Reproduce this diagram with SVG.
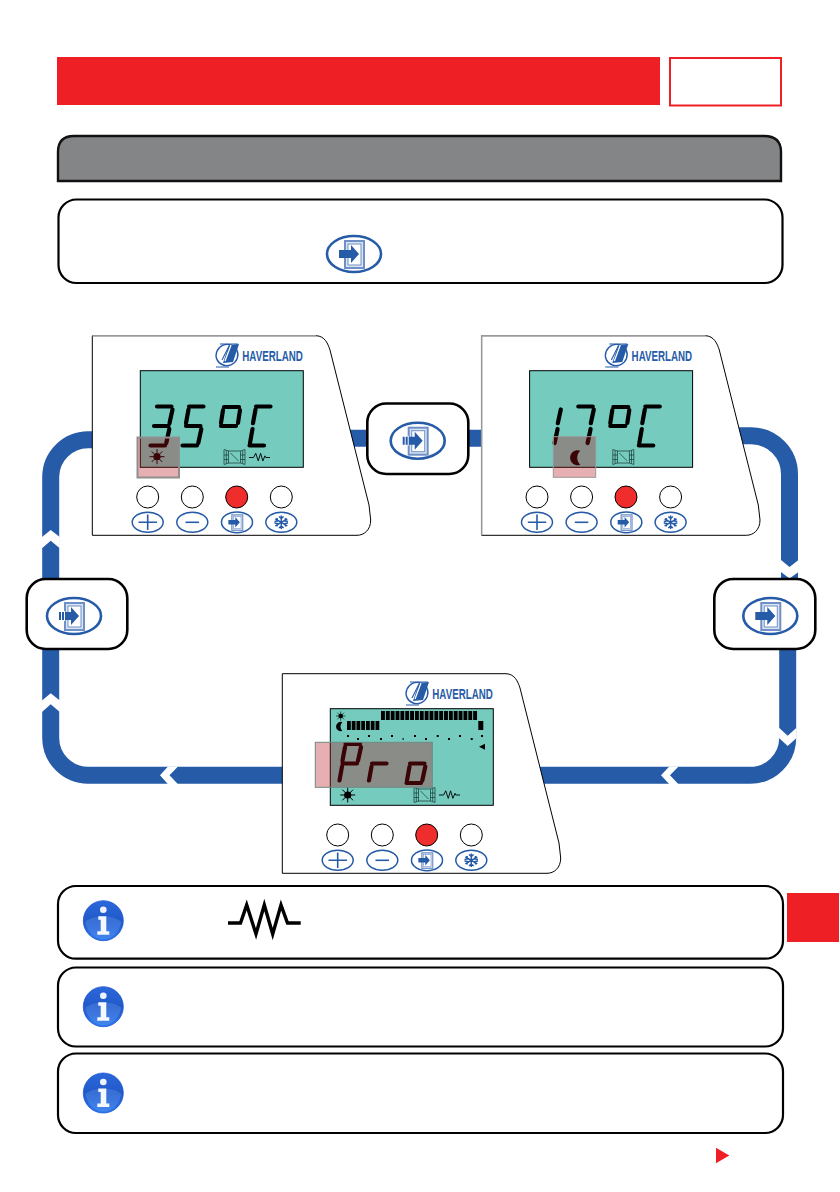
<svg xmlns="http://www.w3.org/2000/svg" xmlns:xlink="http://www.w3.org/1999/xlink" width="840" height="1192" viewBox="0 0 840 1192">
<style>
.flow{fill:none;stroke:#265ba8;stroke-width:17}
.chev{fill:#fff}
.box{fill:#fff;stroke:#000;stroke-width:2.2}
.node{fill:#fff;stroke:#000;stroke-width:2.6}
.seg{fill:none;stroke:#000;stroke-width:4.2;stroke-linecap:round}
.blue{fill:none;stroke:#265ba8}
.btn{fill:#fff;stroke:#000;stroke-width:1}
.thin{fill:none;stroke:#12332f;stroke-width:.7}
.logo{font-family:"Liberation Sans",Arial,sans-serif;font-weight:700;font-size:14px;fill:#265ba8}
</style>
<defs>
<linearGradient id="ig" x1="0" y1="0" x2="0" y2="1"><stop offset="0" stop-color="#2b68dc"/><stop offset=".5" stop-color="#2159c8"/><stop offset=".7" stop-color="#2663d8"/><stop offset="1" stop-color="#2f7cf0"/></linearGradient>
<path id="d3" class="seg" d="M8,0H22.5M23.5,3L20.5,16.7M5,19.5H19.5M20.3,22.5L17.3,36.5M1.5,39H16"/>
<path id="d5" class="seg" d="M8,0H22.5M7.5,3L5,16.7M5,19.5H19.5M20.3,22.5L17.3,36.5M1.5,39H16"/>
<path id="d1" class="seg" d="M23.5,3L20.5,16.7M20.3,22.5L17.3,36.5"/>
<path id="d7" class="seg" d="M8,0H22.5M23.5,3L20.5,16.7M20.3,22.5L17.3,36.5"/>
<path id="dC" class="seg" d="M8,0H22.5M7.5,3L5,16.7M4.5,22.5L2,36.5M1.5,39H16"/>
<path id="dP" class="seg" d="M8,0H22.5M7.5,3L5,16.7M4.5,22.5L2,36.5M5,19.5H19.5M23.5,3L20.5,16.7"/>
<path id="dr" class="seg" d="M5,19.5H19.5M4.5,22.5L2,36.5"/>
<path id="do" class="seg" d="M5,19.5H19.5M4.5,22.5L2,36.5M20.3,22.5L17.3,36.5M1.5,39H16"/>
<path id="deg" class="seg" d="M8,1H23M7,4L5,17M24,4L22,17M5,20H20"/>
<g id="door">
<ellipse rx="27" ry="18" fill="#fff" stroke="#265ba8" stroke-width="2.6"/>
<rect x="-9" y="-13" width="19" height="27" fill="#dbe4f2" stroke="#6f90c7" stroke-width="2"/>
<rect x="-6" y="-10" width="13" height="21" fill="#fff" stroke="#6f90c7" stroke-width="1"/>
<polygon points="-15,-4 -3,-4 -3,-9 5,0 -3,9 -3,4 -15,4" fill="#265ba8"/>
</g>
<g id="stripes"><path d="M-12.5,-5V5M-9.5,-5V5" stroke="#fff" stroke-width="1"/></g>
<g id="sun" fill="#000"><circle r="3.6"/><path d="M0,-7.5V7.5M-7.5,0H7.5M-5.3,-5.3L5.3,5.3M-5.3,5.3L5.3,-5.3" stroke="#000" stroke-width="1"/></g>
<path id="moon" fill="#000" d="M3,-7A7.5,7.5 0 1 0 3,7A9.5,9.5 0 0 1 3,-7Z"/>
<g id="window"><rect x="-6" y="-6" width="12" height="12" class="thin"/><path class="thin" d="M-10.5,-7.5V7.5M10.5,-7.5V7.5M-8.2,-6.5V6.5M8.2,-6.5V6.5M-10.5,-7.5L-6,-6M10.5,-7.5L6,-6M-10.5,7.5L-6,6M10.5,7.5L6,6M-4,-4L4,4M-10.5,-2H-6M-10.5,2.5H-6M6,-2H10.5M6,2.5H10.5"/></g>
<path id="zig" fill="none" stroke="#000" stroke-width="1.1" d="M0,0H5.5L8,-5L11,4L13.8,-5L16.5,4L19,-2L20,0H25" transform="scale(.84)"/>
<g id="info">
<circle r="20" fill="url(#ig)" stroke="#1f55cf" stroke-width=".8"/>
<path d="M-18,1C-10,-6 10,-6 18,1C16,12 8,18.5 0,18.5C-8,18.5 -16,12 -18,1Z" fill="#6fa4f2" opacity=".3"/>
<circle cy="-11" r="3.3" fill="#eef5ff"/>
<path d="M-5,-4.5H3V10.5H6V14H-6V10.5H-2.6V-1H-5Z" fill="#f4f8ff"/>
</g>
<g id="panel">
<path d="M92.3,335.7H316C325,336 328,344 330,350L369,505L370.7,520C370.7,530 364,535.3 357,535.3H92.3Z" fill="#fff" stroke="#000" stroke-width="1"/>
<ellipse cx="227" cy="355" rx="11" ry="10.5" transform="rotate(-25 227 355)" fill="none" stroke="#265ba8" stroke-width="1.4"/>
<polygon points="229,345 239,344 233,362 223,363" fill="#265ba8"/>
<path d="M220,344H238M216,367H229M222,360L229,346" fill="none" stroke="#265ba8" stroke-width="1.1"/>
<path d="M225,361L231,345" stroke="#fff" stroke-width="1.3"/>
<text class="logo" x="242.3" y="360.7" textLength="60.5" lengthAdjust="spacingAndGlyphs">HAVERLAND</text>
<rect x="140.3" y="370.7" width="163" height="96.6" fill="#76cbbf" stroke="#000" stroke-width="1"/>
<circle class="btn" cx="147.7" cy="497" r="11"/>
<circle class="btn" cx="192.3" cy="497" r="11"/>
<circle cx="236.7" cy="497" r="11" fill="#ef2d2d" stroke="#000" stroke-width="1"/>
<circle class="btn" cx="281.3" cy="497" r="11"/>
<ellipse class="blue" cx="147.7" cy="522.3" rx="15.5" ry="10" stroke-width="1.5"/>
<path class="blue" d="M147.7,514.5V530M138.5,522.3H157" stroke-width="1.6"/>
<ellipse class="blue" cx="192.3" cy="522.3" rx="15.5" ry="10" stroke-width="1.5"/>
<path class="blue" d="M185.5,522.3H199" stroke-width="1.6"/>
<use xlink:href="#door" href="#door" transform="translate(237,522.3) scale(.575)"/>
<ellipse class="blue" cx="281.3" cy="522.3" rx="15.5" ry="10" stroke-width="1.5"/>
<path class="blue" d="M281.3,515.5V529M275.3,518.8L287.3,525.8M275.3,525.8L287.3,518.8M279,516.5L281.3,518.5L283.6,516.5M279,528L281.3,526L283.6,528M274.5,521.5L277.5,521L277,518M288,521.5L285,521L285.5,518M274.5,523L277.5,523.5L277,526.5M288,523L285,523.5L285.5,526.5" stroke-width="1.5"/>
</g>
</defs>

<g id="header">
<rect x="57" y="57" width="603" height="48" fill="#ef1f26"/>
<rect x="670" y="58" width="111" height="47.5" fill="#fff" stroke="#ef1f26" stroke-width="2"/>
</g>
<g id="title-bar">
<path d="M58,181V152Q58,136 74,136H764Q781,136 781,152V181Z" fill="#848587" stroke="#111" stroke-width="2.4"/>
</g>
<g id="intro-box">
<rect class="box" x="58.5" y="199.5" width="724" height="83.5" rx="18"/>
<use xlink:href="#door" href="#door" transform="translate(354,254)"/>
</g>

<g id="connectors">
<path class="flow" d="M100,439.7H88A37.5,37.5 0 0 0 50.7,477V738A37.5,37.5 0 0 0 88,775.3H300"/>
<path class="flow" d="M340,438.3H500"/>
<path class="flow" d="M730,435.8H751A38.5,38.5 0 0 1 789.5,474.3V610"/>
<path class="flow" d="M787.7,610V738A37.5,37.5 0 0 1 750,775.3H530"/>
<polygon class="chev" points="42,537 50.7,530 59.8,537 59.8,548.3 50.7,540.7 42,548.3"/>
<polygon class="chev" points="42,700.5 50.7,693.3 59.8,700.5 59.8,712 50.7,704.3 42,712"/>
<polygon class="chev" points="781,560 789.5,567 798.5,560 798.5,572 789.5,578.5 781,572"/>
<polygon class="chev" points="779,727.7 787.7,735.7 796.5,727.7 796.5,738 787.7,746 779,738"/>
<polygon class="chev" points="160,775.3 168,766.5 178,766.5 169.5,775.3 178,784.2 168,784.2"/>
<polygon class="chev" points="661,775.3 669.3,766.5 678.5,766.5 670,775.3 678.5,784.2 669.3,784.2"/>
</g>

<g id="panel-comfort">
<use xlink:href="#panel" href="#panel"/>
<path d="M92.3,335.7H316" stroke="#999" stroke-width="1.4"/>
<use xlink:href="#d3" href="#d3" transform="translate(149,406.5)"/>
<use xlink:href="#d5" href="#d5" transform="translate(181,406.5)"/>
<use xlink:href="#deg" href="#deg" transform="translate(216,406)"/>
<use xlink:href="#dC" href="#dC" transform="translate(248,406.5)"/>
<use xlink:href="#sun" href="#sun" transform="translate(157,456.7)"/>
<use xlink:href="#window" href="#window" transform="translate(234.5,457)"/>
<use xlink:href="#zig" href="#zig" transform="translate(249,457.5)"/>
<rect x="137.5" y="437.5" width="41.5" height="40" fill="#b30d14" fill-opacity=".33" stroke="#8f8f8f" stroke-width="2"/>
</g>

<g id="panel-eco" transform="translate(389.3,0)">
<use xlink:href="#panel" href="#panel"/>
<path d="M92.3,535.3V335.7H316" fill="none" stroke="#999" stroke-width="1.4"/>
<use xlink:href="#d1" href="#d1" transform="translate(148,406.5)"/>
<use xlink:href="#d7" href="#d7" transform="translate(181,406.5)"/>
<use xlink:href="#deg" href="#deg" transform="translate(216,406)"/>
<use xlink:href="#dC" href="#dC" transform="translate(248,406.5)"/>
<use xlink:href="#moon" href="#moon" transform="translate(188,457.7)"/>
<use xlink:href="#window" href="#window" transform="translate(234,457)"/>
<rect x="164" y="436.7" width="42.4" height="40.6" fill="#b30d14" fill-opacity=".33" stroke="#999" stroke-width="1"/>
</g>

<g id="panel-program" transform="translate(190,338)">
<use xlink:href="#panel" href="#panel"/>
<use xlink:href="#sun" href="#sun" transform="translate(150.7,378) scale(.62)"/>
<use xlink:href="#moon" href="#moon" transform="translate(150.5,388.5) scale(.62)"/>
<line x1="191" y1="377.5" x2="287.5" y2="377.5" stroke="#000" stroke-width="9" stroke-dasharray="3.9 .95"/>
<line x1="157" y1="387.5" x2="190" y2="387.5" stroke="#000" stroke-width="9" stroke-dasharray="3.8 .95"/>
<rect x="288.3" y="383" width="5" height="9" fill="#000"/>
<path d="M157,398h2M167,401h2M178,398h2M190,401h2M201,398h2M212.6,401h1M224,398h2M235,401h2M246.7,398h2M258,401h2M269,398h2M280.7,401h2M291,398h2" stroke="#000" stroke-width="2" fill="none"/>
<polygon points="289,408.7 295,405.7 295,411.7" fill="#000"/>
<use xlink:href="#dP" href="#dP" transform="translate(147.5,406)"/>
<use xlink:href="#dr" href="#dr" transform="translate(177,406)"/>
<use xlink:href="#do" href="#do" transform="translate(215,406)"/>
<use xlink:href="#sun" href="#sun" transform="translate(157.7,457)"/>
<use xlink:href="#window" href="#window" transform="translate(234.5,457)"/>
<use xlink:href="#zig" href="#zig" transform="translate(249,457)"/>
<rect x="125.3" y="404.3" width="117" height="45" fill="#b30d14" fill-opacity=".33" stroke="#6f8a84" stroke-width="1"/>
</g>

<g id="node-top">
<rect class="node" x="367.3" y="403.5" width="101" height="70.5" rx="19"/>
<use xlink:href="#door" href="#door" transform="translate(417.7,440.7)"/>
<use xlink:href="#stripes" href="#stripes" transform="translate(417.7,440.7)"/>
</g>
<g id="node-left">
<rect class="node" x="26.7" y="579" width="100.6" height="70" rx="19"/>
<use xlink:href="#door" href="#door" transform="translate(74,616)"/>
<use xlink:href="#stripes" href="#stripes" transform="translate(74,616)"/>
</g>
<g id="node-right">
<rect class="node" x="714.3" y="579" width="101" height="70" rx="19"/>
<use xlink:href="#door" href="#door" transform="translate(770.3,616)"/>
</g>

<g id="note-1">
<rect class="box" x="58" y="886" width="725" height="72.7" rx="18"/>
<use xlink:href="#info" href="#info" transform="translate(103.3,920.7)"/>
<path d="M228,923H240.5L246.7,905L256,934L264.3,905L272.7,934L281,905L287.5,923H300.7" fill="none" stroke="#000" stroke-width="3.4"/>
</g>
<g id="note-2">
<rect class="box" x="58" y="967.5" width="725" height="79" rx="18"/>
<use xlink:href="#info" href="#info" transform="translate(103.3,1006.7)"/>
</g>
<g id="note-3">
<rect class="box" x="58" y="1053.5" width="725" height="79.5" rx="18"/>
<use xlink:href="#info" href="#info" transform="translate(103.3,1093)"/>
</g>

<g id="page-tab"><rect x="787" y="893" width="52" height="49" fill="#ef1f26"/></g>
<g id="next-arrow"><polygon points="716,1147.7 729.3,1155.5 716,1163.3" fill="#ef1f26"/></g>
</svg>
